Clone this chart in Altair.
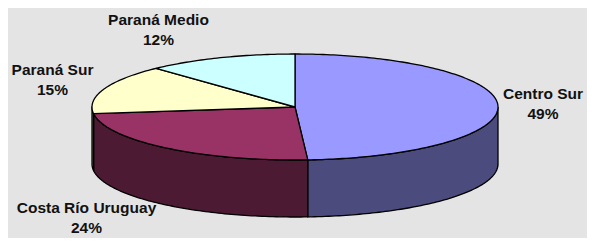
import math
import altair as alt
import pandas as pd

# ---- data ----
names = ["Centro Sur", "Costa Río Uruguay", "Paraná Sur", "Paraná Medio"]
values = [49, 24, 15, 12]
top_colors = ["#9999FF", "#993366", "#FFFFCC", "#CCFFFF"]
side_colors = ["#4B4B7E", "#4D1A33", "#80806A", "#6A8080"]

# ---- layout (page pixels) ----
CX, CY, RX, RY, DEPTH = 295.0, 107.0, 203.0, 53.0, 57.0
W, H = 579, 230
label_anchor = {
    "Centro Sur": (543, 99),
    "Costa Río Uruguay": (86.5, 213),
    "Paraná Sur": (52.5, 75),
    "Paraná Medio": (158.5, 25),
}


def pt(theta_deg, drop=0.0):
    t = math.radians(theta_deg)
    return CX + RX * math.sin(t), CY - RY * math.cos(t) + drop


def arc_angles(a0, a1):
    n = max(2, int(math.ceil(a1 - a0)) + 1)
    return [a0 + (a1 - a0) * k / (n - 1) for k in range(n)]


total = float(sum(values))
tops, sides = [], []
start = 0.0
for name, v in zip(names, values):
    end = start + 360.0 * v / total
    key = name + "|top"
    rows = [(CX, CY)] + [pt(a) for a in arc_angles(start, end)] + [(CX, CY)]
    for i, (x, y) in enumerate(rows):
        tops.append({"key": key, "i": i, "x": x, "y": y})
    s0, s1 = max(start, 90.0), min(end, 270.0)
    if s1 > s0:
        key = name + "|side"
        angs = arc_angles(s0, s1)
        rows = [pt(a) for a in angs] + [pt(a, DEPTH) for a in reversed(angs)] + [pt(angs[0])]
        for i, (x, y) in enumerate(rows):
            sides.append({"key": key, "i": i, "x": x, "y": y})
    start = end

keys = [n + "|top" for n in names] + [n + "|side" for n in names]
color_scale = alt.Scale(domain=keys, range=top_colors + side_colors)

xs = alt.Scale(domain=[8, 8 + W], nice=False, zero=False)
ys = alt.Scale(domain=[8, 8 + H], nice=False, zero=False, reverse=True)


def poly(df):
    return alt.Chart(pd.DataFrame(df)).mark_line(
        filled=True, stroke="black", strokeWidth=1.3, strokeJoin="round"
    ).encode(
        x=alt.X("x:Q", scale=xs, axis=None),
        y=alt.Y("y:Q", scale=ys, axis=None),
        order="i:Q",
        color=alt.Color("key:N", scale=color_scale, legend=None),
    )


labels = pd.DataFrame({
    "text": [f"{n}\n{v}%" for n, v in zip(names, values)],
    "x": [label_anchor[n][0] for n in names],
    "y": [label_anchor[n][1] for n in names],
})
text = alt.Chart(labels).mark_text(
    font="Liberation Sans", fontWeight="bold", fontSize=15.5, lineBreak="\n",
    lineHeight=20, align="center", baseline="alphabetic", color="#111111"
).encode(
    x=alt.X("x:Q", scale=xs, axis=None),
    y=alt.Y("y:Q", scale=ys, axis=None),
    text="text:N",
)

chart = alt.layer(poly(sides), poly(tops), text).properties(
    width=W, height=H, background="#E4E4E4", padding=0, autosize="none"
).configure_view(stroke=None)

chart.save("out.html", embed_options={"renderer": "svg", "actions": False})
